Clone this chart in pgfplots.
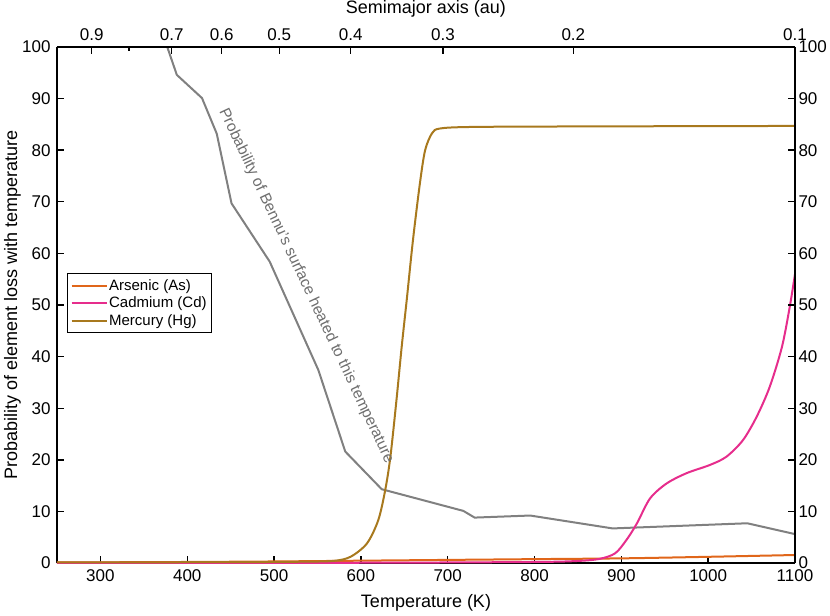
\documentclass[border=0pt]{standalone}
\usepackage{pgfplots}
\pgfplotsset{compat=1.18}
\usepackage{fontspec}
\setmainfont{Liberation Sans}
\newcommand\ft{\fontsize{17}{19}\selectfont}
\newcommand\fl{\fontsize{18}{20}\selectfont}
\newcommand\fg{\fontsize{15}{17}\selectfont}
\newcommand\fb{\fontsize{15.5}{17}\selectfont}
\definecolor{cAs}{HTML}{E0661A}
\definecolor{cCd}{HTML}{E62D8C}
\definecolor{cHg}{HTML}{A8791E}
\definecolor{cGr}{HTML}{808080}
\definecolor{cTx}{HTML}{6E6E6E}
\begin{document}
\begin{tikzpicture}
\pgfplotsset{
  every axis/.append style={
    scale only axis, width=738pt, height=516pt,
    xmin=250, xmax=1100, ymin=0, ymax=100,
    tick align=inside, major tick length=7pt, minor tick length=4pt,
    every tick/.style={black, line width=1.4pt},
    axis line style={black, line width=1.4pt},
    /pgf/number format/assume math mode=true,
    /pgf/number format/1000 sep={},
    tick label style={font=\ft},
    label style={font=\fl},
  }
}
\begin{axis}[
  name=ax,
  axis x line*=bottom, axis y line*=left,
  xtick={300,400,...,1100}, ytick={0,10,...,100},
  xticklabel style={yshift=-3pt},
  yticklabel style={xshift=-3pt},
  xlabel={Temperature (K)},
  ylabel={Probability of element loss with temperature},
  xlabel style={at={(axis description cs:0.5,-0.0775)}, anchor=center},
  ylabel style={at={(axis description cs:-0.0603,0.5)}, anchor=center},
  legend style={at={(0.0136,0.562)}, anchor=north west, draw=black, line width=1.2pt,
    font=\fg, inner xsep=3pt, inner ysep=4.5pt, row sep=2pt,
    nodes={inner sep=1.5pt}, cells={anchor=west}},
  legend image code/.code={\draw[#1, line width=2pt] (0pt,0pt) -- (35pt,0pt);},
]
\addplot[cGr, line width=2pt, forget plot] coordinates {
(377,100) (388,94.6) (417,90.1) (434,83.2) (451,69.7) (495,58.4) (551,37.4)
(582,21.6) (624,14.3) (718,10.1) (731,8.8) (795,9.2) (890,6.7) (1045,7.7) (1100,5.6)};
\addplot[cAs, line width=2pt, smooth] coordinates {
(250,0.1) (400,0.2) (500,0.3) (600,0.45) (700,0.6) (800,0.75) (900,0.9) (1000,1.2) (1100,1.55)};
\addplot[cCd, line width=2pt, smooth] coordinates {
(250,0.02) (600,0.05) (800,0.2) (850,0.4) (875,0.8) (893,1.9) (906,4.5) (918,7.7)
(933,12.5) (952,15.4) (975,17.4) (1002,19.0) (1021,20.6) (1040,23.8) (1056,28.4)
(1071,34.2) (1085,41.9) (1094,49.7) (1100,56.0)};
\addplot[cHg, line width=2pt, smooth] coordinates {
(250,0.1) (400,0.15) (500,0.2) (530,0.25) (568,0.4) (588,1.2) (607,3.8) (620,8.3)
(628,14.1) (634,20.6) (641,31.6) (647,41.9) (653,51.3) (660,62.6) (668,73.6)
(674,80.0) (682,83.3) (691,84.2) (726,84.5) (841,84.6) (1100,84.7)};
\legend{Arsenic (As), Cadmium (Cd), Mercury (Hg)}
\node[rotate=-64.7, text=cTx, font=\fb] at (axis cs:537,53.7)
  {Probability of Bennu's surface heated to this temperature};
\end{axis}
\begin{axis}[
  axis x line*=top, axis y line*=right,
  xtick={290.0,382.1,439.7,506.0,588.3,694.6,844.7,1100},
  xticklabels={0.9,0.7,0.6,0.5,0.4,0.3,0.2,0.1},
  minor xtick={332.9},
  ytick={0,10,...,100},
  xticklabel style={yshift=3pt},
  yticklabel style={xshift=0pt},
  xlabel={Semimajor axis (au)},
  xlabel style={at={(axis description cs:0.5,1.0736)}, anchor=center},
]
\end{axis}
\pgfresetboundingbox
\path ([xshift=-57pt,yshift=-52pt]ax.south west) rectangle ([xshift=35pt,yshift=47pt]ax.north east);
\end{tikzpicture}
\end{document}
